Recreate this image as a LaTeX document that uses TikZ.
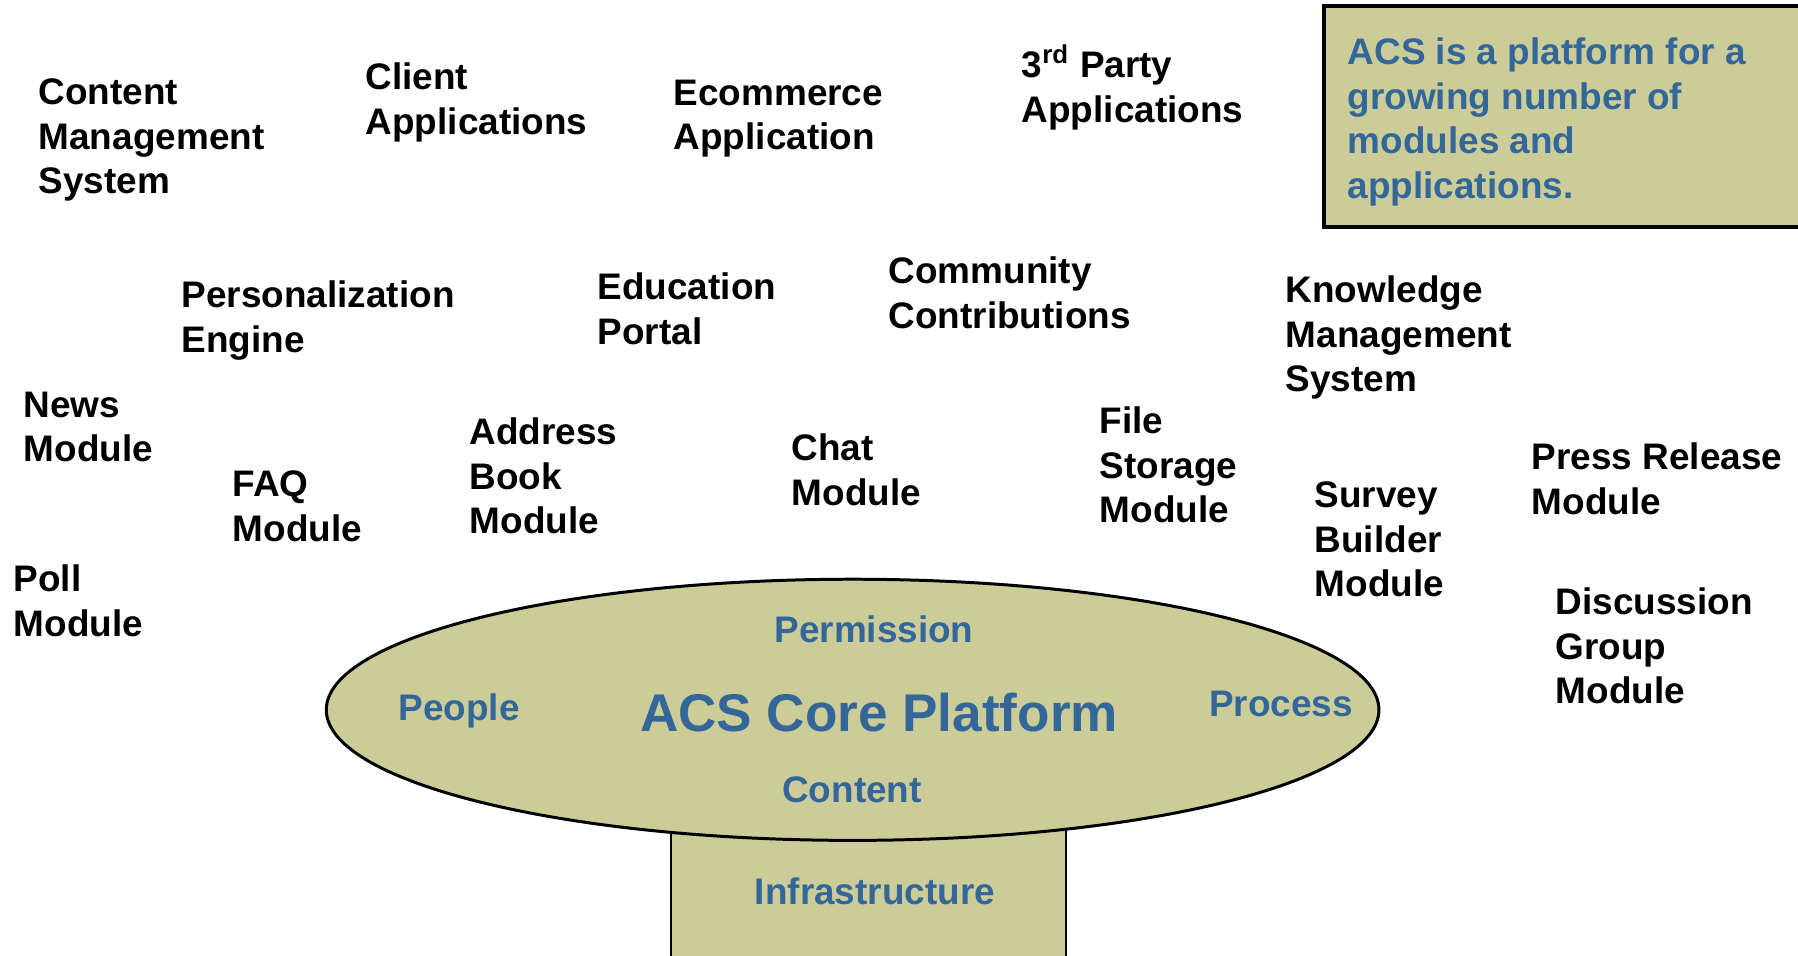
\documentclass[tikz,border=0pt]{standalone}
\usepackage{fontspec}
\setmainfont{Liberation Sans}
\usetikzlibrary{shapes.geometric}
\definecolor{acsblue}{HTML}{336699}
\definecolor{acsolive}{HTML}{CCCC99}
\newcommand{\modfont}{\fontsize{10.5}{12.7}\selectfont\bfseries}
\tikzstyle{module} = [anchor=north west, inner sep=0pt, align=left, font=\modfont]
\tikzstyle{core} = [ellipse, draw=black, line width=0.85pt, fill=acsolive, minimum width=10.52cm, minimum height=2.61cm, inner sep=0pt]
\tikzstyle{part} = [anchor=base, inner sep=0pt, text=acsblue, font=\modfont]
\tikzstyle{note} = [anchor=north west, inner sep=0pt, align=left, text=acsblue, font=\modfont]

\begin{document}
\begin{tikzpicture}[x=0.01cm, y=-0.01cm]
	\useasboundingbox (0,0) rectangle (1798,955);

	% note box, runs off the right edge
	\draw [line width=0.9pt, fill=acsolive] (1324,6) rectangle (1820,227);
	\node (info) [note] at (1347,37) {ACS is a platform for a\\growing number of\\modules and\\applications.};

	% applications
	\node (cms) [module] at (38,78) {Content\\Management\\System};
	\node (client) [module] at (365,62) {Client\\Applications};
	\node (ecom) [module] at (673,79) {Ecommerce\\Application};
	\node (third) [module] at (1021,44) {3\textsuperscript{rd} Party\\Applications};
	\node (pers) [module] at (181,280) {Personalization\\Engine};
	\node (edu) [module] at (597,272) {Education\\Portal};
	\node (comm) [module] at (888,256) {Community\\Contributions};
	\node (kms) [module] at (1285,275) {Knowledge\\Management\\System};

	% modules
	\node (news) [module] at (23,391) {News\\Module};
	\node (faq) [module] at (232,470) {FAQ\\Module};
	\node (addr) [module] at (469,417) {Address\\Book\\Module};
	\node (chat) [module] at (791,433) {Chat\\Module};
	\node (file) [module] at (1099,406) {File\\Storage\\Module};
	\node (survey) [module] at (1314,481) {Survey\\Builder\\Module};
	\node (press) [module] at (1531,442) {Press Release\\Module};
	\node (poll) [module] at (13,564) {Poll\\Module};
	\node (disc) [module] at (1555,587) {Discussion\\Group\\Module};

	% core platform
	\draw [line width=0.6pt, fill=acsolive] (671,780) rectangle (1066,965);
	\node (platform) [core] at (852.6,709.8) {};
	\node (perm) [part] at (874,642) {Permission};
	\node (people) [part] at (459,720) {People};
	\node (acs) [part, font=\fontsize{15.1}{18}\selectfont\bfseries] at (879,731) {ACS Core Platform};
	\node (proc) [part] at (1281,716) {Process};
	\node (content) [part] at (852,802) {Content};
	\node (infra) [part] at (875,904) {Infrastructure};
\end{tikzpicture}
\end{document}
